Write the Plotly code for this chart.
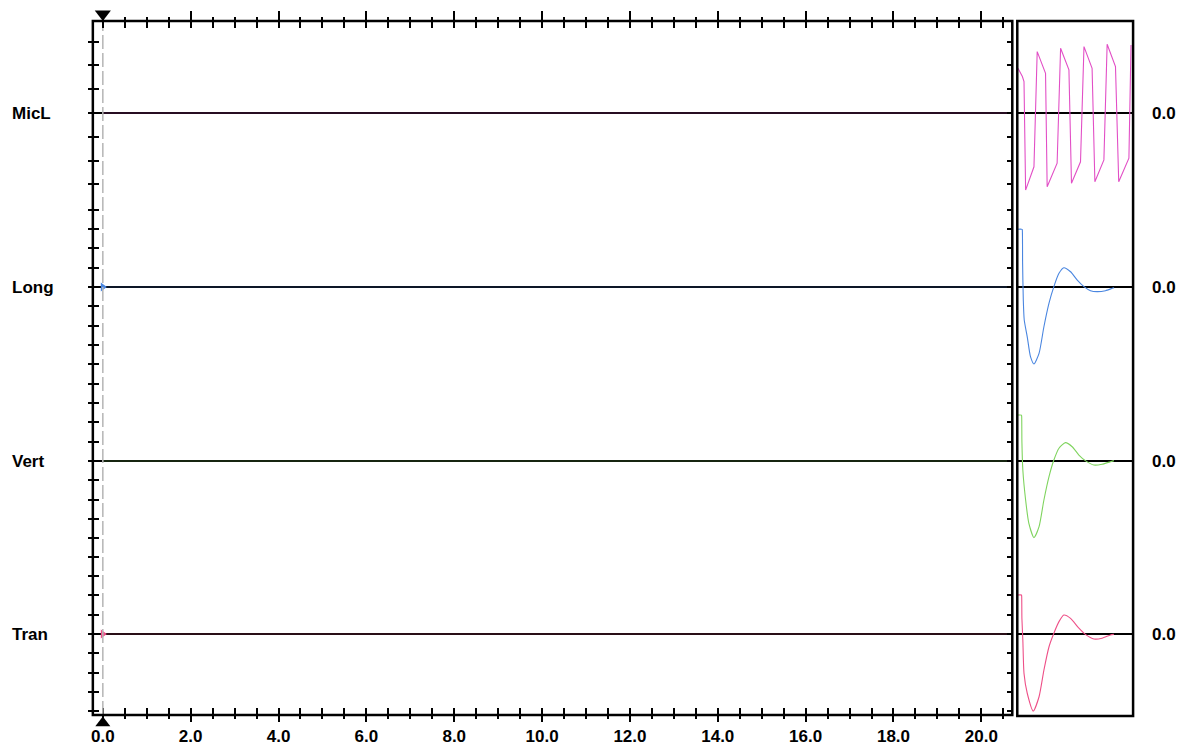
import plotly.graph_objects as go

# ---------------- data ----------------
channels = ["MicL", "Long", "Vert", "Tran"]
colors = ["#e24fc6", "#4a86e0", "#7fd45e", "#ee5088"]
right_labels = ["0.0", "0.0", "0.0", "0.0"]

# main time axis (s)
time_ticks_major = 2.0
time_ticks_minor = 0.5
cursor_t = 0.0

# main panel: recorded signal per channel (flat after the event)
main_t = [0.0, 20.7]
main_v = [0.0, 0.0]

# zoomed panel (ms), values in channel units
micl_t = [0.3, 2.2, 2.9, 3.6, 7.2, 8.6, 12.2, 12.9, 17.2, 18.7, 22.3, 23.4, 27.3, 28.8,
          32.3, 33.5, 37.4, 38.8, 42.4, 43.8, 48.2, 49.1]
micl_v = [1.88, 1.53, 1.32, -3.24, -2.26, 2.58, 1.67, -3.10, -2.11, 2.72, 1.81, -2.95, -2.05, 2.79,
          1.88, -2.89, -1.97, 2.89, 1.95, -2.89, -1.90, 2.86]

long_t = [0, 2.1, 2.2, 2.3, 2.6, 3.0, 4.3, 5.7, 7.2, 9.4, 11.5, 13.7, 15.8, 18.0, 20.1, 23.0, 25.9,
          28.8, 31.6, 34.5, 38.1, 41.0, 41.8]
long_v = [2.99, 2.99, 2.9, 1.2, -0.67, -1.71, -2.58, -3.61, -3.99, -3.44, -2.06, -0.84, 0.02, 0.71,
          1.0, 0.79, 0.36, 0.02, -0.19, -0.24, -0.19, -0.07, -0.04]

vert_t = [0, 1.8, 1.9, 2.0, 2.4, 3.6, 5.0, 7.2, 9.4, 11.5, 13.7, 15.8, 18.0, 20.8, 23.7, 26.6, 29.4,
          33.1, 36.6, 40.2, 41.7]
vert_v = [2.38, 2.38, 2.3, 1.0, -0.47, -2.02, -3.23, -3.97, -3.40, -2.02, -0.81, 0.05, 0.66, 0.95,
          0.74, 0.31, 0.02, -0.21, -0.17, -0.04, 0.02]

tran_t = [0, 1.8, 1.9, 2.0, 2.4, 2.9, 4.3, 6.9, 9.4, 11.5, 13.7, 15.8, 18.0, 20.1, 23.0, 26.6, 29.4,
          33.1, 36.6, 40.2, 41.7]
tran_v = [2.02, 2.02, 1.95, 0.8, -0.31, -2.04, -3.07, -3.99, -3.25, -1.87, -0.66, 0.04, 0.64, 0.98,
          0.81, 0.30, -0.02, -0.26, -0.22, -0.05, -0.02]

zoom_t = [micl_t, long_t, vert_t, tran_t]
zoom_v = [micl_v, long_v, vert_v, tran_v]
zoom_shape = ["linear", "spline", "spline", "spline"]

# event marks seen on the main panel at t = 0 (channel index, time, value)
main_marks_ch = [1, 3]
main_marks_t = [0.0, 0.0]
main_marks_v = [0.0, 0.0]

# ---------------- layout geometry (pixels) ----------------
W, H = 1183, 747
def px(p):
    return p / W
def py(p):
    return 1 - p / H

MAIN_L, MAIN_R, TOP, BOT = 91, 1012, 21, 715
ZOOM_L, ZOOM_R, ZOOM_B = 1017, 1133, 716
X0_PX, PX_PER_S = 101, 44.0
centers = [113, 287, 461, 634]
ppu = [23.8, 19.3, 19.3, 19.3]
bounds = [TOP, 199, 374, 547, BOT]

x_range = [-(X0_PX - MAIN_L) / PX_PER_S, (MAIN_R - X0_PX) / PX_PER_S]
FONT = "Liberation Sans, Arial, sans-serif"
LBL = dict(family=FONT, size=17, color="black", weight="bold")

fig = go.Figure()
layout = dict(
    width=W, height=H,
    margin=dict(l=0, r=0, t=0, b=0),
    paper_bgcolor="white",
    plot_bgcolor="rgba(0,0,0,0)",
    showlegend=False,
    font=dict(family=FONT, color="black"),
)

# main time axis (bottom ticks + labels)
layout["xaxis"] = dict(
    domain=[px(MAIN_L), px(MAIN_R)], range=x_range, anchor="free", position=py(707),
    side="bottom", showline=False, showgrid=False, zeroline=False,
    tick0=0, dtick=time_ticks_major, tickformat=".1f",
    ticks="outside", ticklen=14, tickwidth=2, tickcolor="black",
    minor=dict(dtick=time_ticks_minor, ticks="outside", ticklen=11, tickwidth=2, tickcolor="black"),
    tickfont=LBL,
)
# top ticks
layout["xaxis3"] = dict(
    overlaying="x", range=x_range, anchor="free", position=py(28), side="top",
    showline=False, showgrid=False, zeroline=False, showticklabels=False,
    tick0=0, dtick=time_ticks_major,
    ticks="outside", ticklen=17, tickwidth=2, tickcolor="black",
    minor=dict(dtick=time_ticks_minor, ticks="outside", ticklen=11, tickwidth=2, tickcolor="black"),
)
# zoom panel axis
layout["xaxis2"] = dict(
    domain=[px(ZOOM_L), px(ZOOM_R)], range=[0, 50], anchor="free", position=py(ZOOM_B),
    showline=False, showgrid=False, zeroline=False, showticklabels=False, ticks="",
)
# invisible frame axis for the cursor (0 = bottom frame edge, 1 = top frame edge)
PAD_T, PAD_B = 16, 16
span = BOT - TOP
layout["yaxis9"] = dict(
    domain=[py(BOT + PAD_B), py(TOP - PAD_T)],
    range=[-PAD_B / span, 1 + PAD_T / span], anchor="free", position=px(MAIN_L),
    visible=False,
)

annotations = []
for i, name in enumerate(channels):
    c, u = centers[i], ppu[i]
    top, bot = bounds[i], bounds[i + 1]
    rng = [-(bot - c) / u, (c - top) / u]
    key = "yaxis" if i == 0 else f"yaxis{i + 1}"
    yref = "y" if i == 0 else f"y{i + 1}"
    yref_r = f"y{i + 5}"
    layout[key] = dict(
        domain=[py(bot), py(top)], range=rng, anchor="free", position=px(97), side="left",
        showline=False, showgrid=False, showticklabels=False,
        zeroline=True, zerolinecolor="black", zerolinewidth=2,
        tick0=0, dtick=1, ticks="outside", ticklen=11, tickwidth=2, tickcolor="black",
    )
    layout[f"yaxis{i + 5}"] = dict(
        overlaying=yref, range=rng, anchor="free", position=px(MAIN_R),
        side="left", showline=False, showgrid=False, showticklabels=False, zeroline=False,
        tick0=0, dtick=1, ticks="outside", ticklen=5, tickwidth=2, tickcolor="black",
    )
    annotations.append(dict(
        text=name, xref="paper", x=px(8), xanchor="left", yref=yref, y=0, yanchor="middle",
        showarrow=False, font=LBL,
    ))
    annotations.append(dict(
        text=right_labels[i], xref="paper", x=px(1150), xanchor="left", yref=yref, y=0,
        yanchor="middle", showarrow=False, font=LBL,
    ))
    # main panel signal (thin, tinted, over the black baseline)
    fig.add_trace(go.Scatter(
        x=main_t, y=main_v, xaxis="x", yaxis=yref, mode="lines",
        line=dict(color=colors[i], width=1), opacity=0.35, hoverinfo="skip",
    ))
    # same signal registered on the right-edge tick axis (keeps that axis drawn)
    fig.add_trace(go.Scatter(
        x=main_t, y=main_v, xaxis="x", yaxis=yref_r, mode="lines",
        line=dict(color=colors[i], width=1), opacity=0.0, hoverinfo="skip",
    ))
    # zoomed waveform
    fig.add_trace(go.Scatter(
        x=zoom_t[i], y=zoom_v[i], xaxis="x2", yaxis=yref, mode="lines",
        line=dict(color=colors[i], width=1.1, shape=zoom_shape[i], smoothing=0.6),
        hoverinfo="skip",
    ))

for ch, t, v in zip(main_marks_ch, main_marks_t, main_marks_v):
    yref = "y" if ch == 0 else f"y{ch + 1}"
    fig.add_trace(go.Scatter(
        x=[t], y=[v], xaxis="x", yaxis=yref, mode="markers", cliponaxis=False,
        marker=dict(symbol="triangle-right", size=8, color=colors[ch]), hoverinfo="skip",
    ))

# cursor: dashed line + triangles (on the top-tick axis so that it is drawn)
fig.add_trace(go.Scatter(
    x=[cursor_t, cursor_t], y=[0, 1], xaxis="x3", yaxis="y9", mode="lines",
    line=dict(color="#b5b5b5", width=1.5, dash="14px,4px"), hoverinfo="skip",
))
off_top = 7 / span
off_bot = 8 / span
fig.add_trace(go.Scatter(
    x=[cursor_t], y=[1 + off_top], xaxis="x3", yaxis="y9", mode="markers",
    marker=dict(symbol="triangle-down", size=14, color="black"), hoverinfo="skip",
))
fig.add_trace(go.Scatter(
    x=[cursor_t], y=[-off_bot], xaxis="x3", yaxis="y9", mode="markers",
    marker=dict(symbol="triangle-up", size=13, color="black"), hoverinfo="skip",
))

layout["annotations"] = annotations
layout["shapes"] = [
    dict(type="rect", xref="paper", yref="paper", x0=px(MAIN_L), x1=px(MAIN_R),
         y0=py(BOT), y1=py(TOP), line=dict(color="black", width=2.5), layer="above"),
    dict(type="rect", xref="paper", yref="paper", x0=px(ZOOM_L), x1=px(ZOOM_R),
         y0=py(ZOOM_B), y1=py(TOP), line=dict(color="black", width=2.5), layer="above"),
]
fig.update_layout(**layout)
fig.write_html(
    "out.html",
    config={"displayModeBar": False},
    post_script="document.body.style.margin='0px';document.body.style.padding='0px';",
)
